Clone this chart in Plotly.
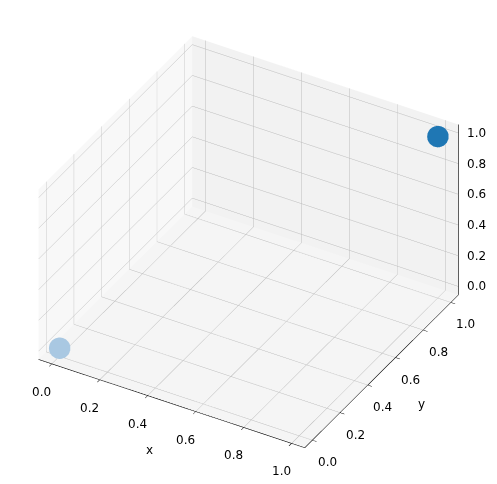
import plotly.graph_objects as go

xs = [0.0, 1.0]
ys = [0.0, 1.0]
zs = [0.0, 1.0]
point_colors = ["#a9c8e2", "#1f77b4"]
tick_vals = [0.0, 0.2, 0.4, 0.6, 0.8, 1.0]
tick_text = ["0.0", "0.2", "0.4", "0.6", "0.8", "1.0"]
lo, hi = -0.055, 1.055

fig = go.Figure()
fig.add_trace(go.Scatter3d(
    x=xs, y=ys, z=zs, mode="markers",
    marker=dict(size=12.5, color=point_colors, opacity=1),
    hoverinfo="skip",
))

# z axis line and ticks on the right corner (x=hi, y=hi), like matplotlib
zl_x, zl_y, zl_z = [hi, hi], [hi, hi], [lo, hi]
for t in tick_vals:
    zl_x += [None, hi, hi + 0.03]
    zl_y += [None, hi, hi + 0.03]
    zl_z += [None, t, t]
fig.add_trace(go.Scatter3d(x=zl_x, y=zl_y, z=zl_z, mode="lines",
                           line=dict(color="black", width=1.2), hoverinfo="skip"))

def ax(bg):
    return dict(
        title=dict(text=""),
        range=[lo, hi], tickvals=tick_vals, showticklabels=False,
        showbackground=True, backgroundcolor=bg,
        gridcolor="#bcbcbc", gridwidth=1,
        showline=True, linecolor="black", linewidth=1.2,
        zeroline=False, ticks="outside", tickcolor="black", ticklen=5,
        showspikes=False,
    )

ann = []
tf = dict(size=12, color="black", family="DejaVu Sans")
for v, s in zip(tick_vals, tick_text):
    ann.append(dict(x=v, y=lo, z=lo, text=s, showarrow=False, xshift=-10, yshift=-28, font=tf))
    ann.append(dict(x=hi, y=v, z=lo, text=s, showarrow=False, xshift=15, yshift=-22, font=tf))
    ann.append(dict(x=hi, y=hi, z=v, text=s, showarrow=False, xanchor="left", xshift=7, font=tf))
ann.append(dict(x=0.5, y=lo, z=lo, text="x", showarrow=False, xshift=-22, yshift=-46, font=tf))
ann.append(dict(x=hi, y=0.5, z=lo, text="y", showarrow=False, xshift=40, yshift=-33, font=tf))

zax = ax("#f2f2f2")
zax.update(showline=False, ticks="")
cshift = (0.038, 0.0, -0.027)
fig.update_layout(
    width=497, height=484,
    paper_bgcolor="white",
    margin=dict(l=0, r=0, t=0, b=0),
    font=dict(family="DejaVu Sans"),
    showlegend=False,
    scene=dict(
        xaxis=ax("#f8f8f8"), yaxis=ax("#f2f2f2"), zaxis=dict(zax, backgroundcolor="#f5f5f5"),
        aspectmode="manual", aspectratio=dict(x=1.27, y=1.27, z=0.86),
        camera=dict(eye=dict(x=0.67 + cshift[0], y=-1.16 + cshift[1], z=0.94 + cshift[2]),
                    center=dict(x=cshift[0], y=cshift[1], z=cshift[2]),
                    projection=dict(type="orthographic")),
        domain=dict(x=[0.0, 1.0], y=[0.0, 1.0]),
        annotations=ann,
    ),
)
fig.write_html("out.html")
